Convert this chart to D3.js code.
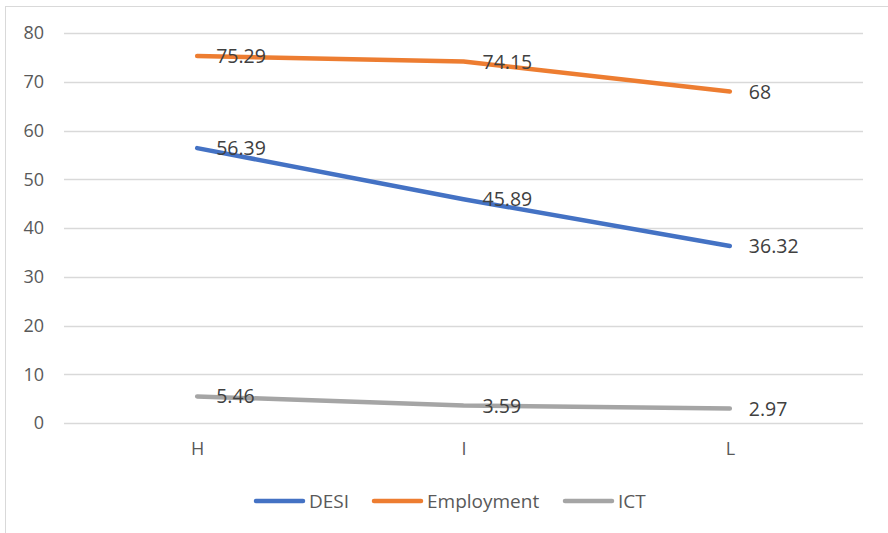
<!DOCTYPE html>
<html>
<head>
<meta charset="utf-8">
<script src="https://cdn.jsdelivr.net/npm/d3@7"></script>
<style>
  html, body { margin: 0; padding: 0; background: #fff; }
  svg { display: block; font-family: "Open Sans", "Liberation Sans", sans-serif; }
</style>
</head>
<body>
<svg id="chart" width="888" height="533"></svg>
<script>
// Regions along the x axis
const categories = ["H", "I", "L"];

// Series values
const desi = [56.39, 45.89, 36.32];
const employment = [75.29, 74.15, 68];
const ict = [5.46, 3.59, 2.97];

// Y-axis ticks
const yTicks = [0, 10, 20, 30, 40, 50, 60, 70, 80];

const seriesNames = ["DESI", "Employment", "ICT"];
const seriesColors = ["#4472C4", "#ED7D31", "#A5A5A5"];
const seriesValues = [desi, employment, ict];

const svg = d3.select("#chart");
const W = 888, H = 533;
const plot = { left: 64, right: 863, top: 33, bottom: 423 };
const textColor = "#595959";

// Outer frame of the chart area
svg.append("rect")
  .attr("x", 5.5).attr("y", 6.5)
  .attr("width", W + 10).attr("height", H + 10)
  .attr("fill", "#fff").attr("stroke", "#D9D9D9").attr("stroke-width", 1);

const x = d3.scalePoint().domain(categories).range([plot.left, plot.right]).padding(0.5);
const y = d3.scaleLinear().domain([0, 80]).range([plot.bottom, plot.top]);

// Horizontal gridlines
svg.append("g").selectAll("line").data(yTicks).join("line")
  .attr("x1", plot.left).attr("x2", plot.right)
  .attr("y1", d => Math.round(y(d)) + 0.5).attr("y2", d => Math.round(y(d)) + 0.5)
  .attr("stroke", "#D9D9D9").attr("stroke-width", 1.5);

// Y axis labels
const yAxis = d3.axisLeft(y).tickValues(yTicks).tickSize(0).tickPadding(0);
const yG = svg.append("g").attr("transform", `translate(${44},0)`).call(yAxis);
yG.select(".domain").remove();
yG.selectAll("text").attr("fill", textColor).style("font-size", "18px")
  .style("font-family", "'Open Sans', sans-serif");

// X axis labels
const xAxis = d3.axisBottom(x).tickSize(0).tickPadding(0);
const xG = svg.append("g").attr("transform", `translate(0,${442})`).call(xAxis);
xG.select(".domain").remove();
xG.selectAll("text").attr("fill", textColor).style("font-size", "18px")
  .style("font-family", "'Open Sans', sans-serif");

// Series lines
const line = d3.line()
  .x((d, i) => x(categories[i]))
  .y(d => y(d))
  .curve(d3.curveLinear);

seriesValues.forEach((vals, s) => {
  svg.append("path")
    .datum(vals)
    .attr("d", line)
    .attr("fill", "none")
    .attr("stroke", seriesColors[s])
    .attr("stroke-width", 4.5)
    .attr("stroke-linecap", "round")
    .attr("stroke-linejoin", "round");
});

// Data labels to the right of each point
seriesValues.forEach((vals) => {
  svg.append("g").selectAll("text").data(vals).join("text")
    .attr("x", (d, i) => x(categories[i]) + 19)
    .attr("y", d => y(d))
    .attr("dy", "0.36em")
    .attr("fill", "#404040")
    .style("font-size", "19.5px")
    .text(d => d);
});

// Legend
const legendItems = [
  { name: seriesNames[0], color: seriesColors[0], x: 256 },
  { name: seriesNames[1], color: seriesColors[1], x: 374 },
  { name: seriesNames[2], color: seriesColors[2], x: 565 }
];
const lg = svg.append("g").attr("transform", "translate(0,501)");
legendItems.forEach(item => {
  lg.append("line")
    .attr("x1", item.x).attr("x2", item.x + 47)
    .attr("y1", 0).attr("y2", 0)
    .attr("stroke", item.color).attr("stroke-width", 4.5)
    .attr("stroke-linecap", "round");
  lg.append("text")
    .attr("x", item.x + 53).attr("y", 0).attr("dy", "0.35em")
    .attr("fill", textColor).style("font-size", "19px")
    .text(item.name);
});
</script>
</body>
</html>
